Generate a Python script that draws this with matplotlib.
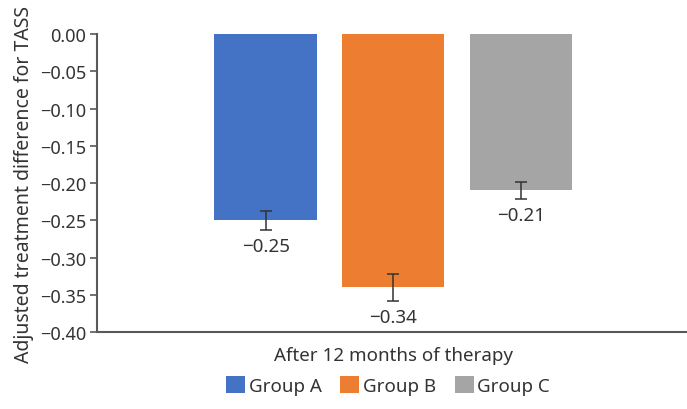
import matplotlib.pyplot as plt
from matplotlib.patches import Patch

# data
groups = ["Group A", "Group B", "Group C"]
values = [-0.25, -0.34, -0.21]
err_low = [0.013, 0.018, 0.011]
err_high = [0.013, 0.018, 0.011]
colors = ["#4472C4", "#ED7D31", "#A5A5A5"]
category = "After 12 months of therapy"
yticks = [0.00, -0.05, -0.10, -0.15, -0.20, -0.25, -0.30, -0.35, -0.40]

plt.rcParams['font.family'] = ['Noto Sans', 'DejaVu Sans']
text_col = "#333333"
spine_col = "#595959"

fig = plt.figure(figsize=(6.87, 4.10), dpi=100)
ax = fig.add_axes([0.1412, 0.1878, 0.8588, 0.7268])

offsets = [-1, 0, 1]
for x, v, lo, hi, c in zip(offsets, values, err_low, err_high, colors):
    ax.bar(x, v, width=0.8, color=c, zorder=2)
    ax.errorbar(x, v, yerr=[[lo], [hi]], fmt="none", ecolor="#333333",
                elinewidth=1.1, capsize=4, capthick=1.1, zorder=3)
    ax.text(x, v - hi - 0.010, "\u2212%.2f" % abs(v), ha="center", va="top",
            fontsize=13.5, color=text_col)

ax.set_xlim(-2.32, 2.30)
ax.set_ylim(-0.40, 0.0)
ax.set_yticks(yticks)
ax.set_yticklabels(["0.00"] + ["\u2212%.2f" % abs(t) for t in yticks[1:]],
                   fontsize=13, color=text_col)
ax.set_xticks([0])
ax.set_xticklabels([category], fontsize=13.5, color=text_col)
ax.tick_params(axis="x", length=0, pad=10)
ax.tick_params(axis="y", length=5, width=1.2, color=spine_col, direction="out",
               pad=3)

for s in ["top", "right"]:
    ax.spines[s].set_visible(False)
for s in ["left", "bottom"]:
    ax.spines[s].set_color(spine_col)
    ax.spines[s].set_linewidth(1.5)

ax.set_ylabel("Adjusted treatment difference for TASS", fontsize=14,
              color=text_col, labelpad=4)

handles = [Patch(facecolor=c, label=g) for c, g in zip(colors, groups)]
fig.legend(handles=handles, loc="center", bbox_to_anchor=(0.565, 0.058),
           ncol=3, frameon=False, fontsize=13.5, handlelength=1.0,
           handleheight=1.0, handletextpad=0.2, columnspacing=1.0,
           labelcolor=text_col)

fig.savefig("out.png", dpi=100)
